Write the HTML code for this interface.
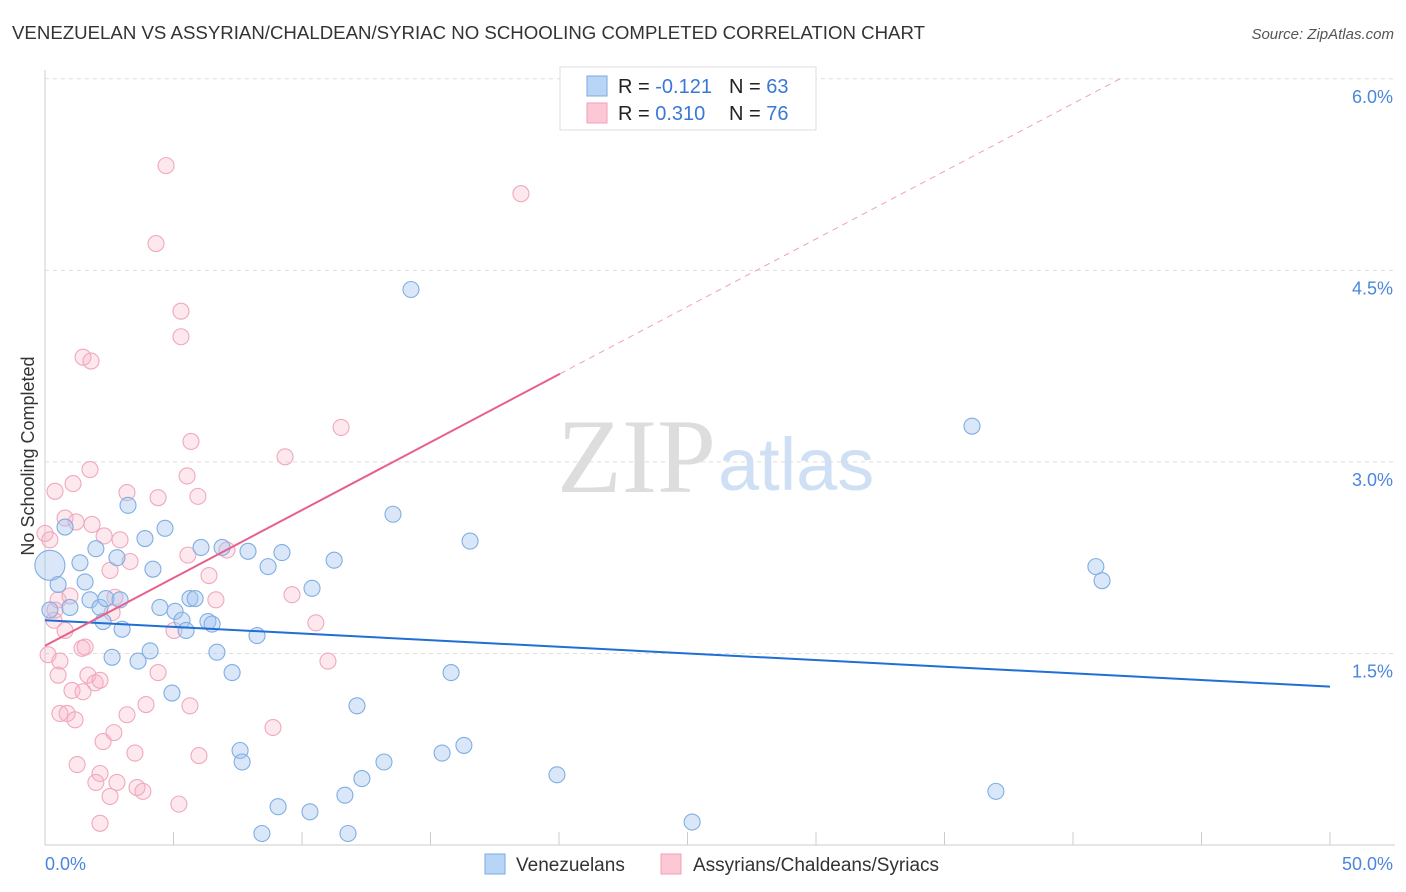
<!DOCTYPE html>
<html><head><meta charset="utf-8"><style>
body{margin:0;background:#fff;font-family:"Liberation Sans",sans-serif;}
svg{display:block}
</style></head><body>
<svg id="chart" width="1406" height="892" font-family="Liberation Sans, sans-serif">
<text x="12" y="39" font-size="18" fill="#333" textLength="913" lengthAdjust="spacingAndGlyphs">VENEZUELAN VS ASSYRIAN/CHALDEAN/SYRIAC NO SCHOOLING COMPLETED CORRELATION CHART</text>
<text x="1394" y="39" font-size="15" fill="#555" font-style="italic" text-anchor="end">Source: ZipAtlas.com</text>
<text x="716" y="492" font-size="106" fill="#ddd" text-anchor="end" font-family="Liberation Serif, serif">ZIP</text>
<text x="718" y="490" font-size="74" fill="#cfe0f5">atlas</text>
<text transform="translate(34,456) rotate(-90)" font-size="18" fill="#333" text-anchor="middle">No Schooling Completed</text>
<g id="grid"></g><g id="pts"></g><g id="lines"></g>
<g>
<rect x="560" y="67" width="256" height="63" fill="#fff" stroke="#ddd"/>
<rect x="587" y="76" width="20" height="20" fill="#b8d4f6" stroke="#7aaae0"/>
<rect x="587" y="103" width="20" height="20" fill="#fcc8d6" stroke="#f0a0b8"/>
<text x="618" y="93" font-size="20" fill="#222">R = <tspan fill="#3a78d8">-0.121</tspan></text>
<text x="729" y="93" font-size="20" fill="#222">N = <tspan fill="#3a78d8">63</tspan></text>
<text x="618" y="120" font-size="20" fill="#222">R = <tspan fill="#3a78d8"> 0.310</tspan></text>
<text x="729" y="120" font-size="20" fill="#222">N = <tspan fill="#3a78d8">76</tspan></text>
</g>
<g>
<rect x="485" y="854" width="20" height="20" fill="#b8d4f6" stroke="#7aaae0"/>
<text x="516" y="871" font-size="19" fill="#333">Venezuelans</text>
<rect x="661" y="854" width="20" height="20" fill="#fcc8d6" stroke="#f0a0b8"/>
<text x="693" y="871" font-size="19" fill="#333">Assyrians/Chaldeans/Syriacs</text>
</g>
</svg>
<script>
const xTicks=[0,5,10,15,20,25,30,35,40,45,50];
const yTicks=[1.5,3.0,4.5,6.0];
const yTickLabels=["1.5%","3.0%","4.5%","6.0%"];
const xEndLabels=["0.0%","50.0%"];
const blueX=[.19,.51,.78,1.36,1.56,1.75,1.98,2.14,2.26,2.37,2.61,2.80,3.00,3.23,3.62,3.89,4.09,4.20,4.47,4.67,4.94,5.06,5.33,5.49,5.64,5.84,6.07,6.34,6.50,6.69,6.89,7.28,7.59,7.67,7.90,8.25,8.44,8.68,9.07,9.22,10.31,10.39,11.25,11.67,11.79,12.14,12.33,13.19,13.54,14.24,15.45,15.80,16.30,16.54,19.92,25.18,36.07,37.00,40.89,41.13,.19,.97,2.92];
const blueY=[2.19,2.04,2.49,2.21,2.06,1.92,2.32,1.86,1.75,1.93,1.47,2.25,1.69,2.66,1.44,2.40,1.52,2.16,1.86,2.48,1.19,1.83,1.76,1.68,1.93,1.93,2.33,1.75,1.73,1.51,2.33,1.35,.74,.65,2.30,1.64,.09,2.18,.30,2.29,.26,2.01,2.23,.39,.09,1.09,.52,.65,2.59,4.35,.72,1.35,.78,2.38,.55,.18,3.28,.42,2.18,2.07,1.84,1.86,1.92];
const pinkX=[4.71,18.52,4.32,5.29,5.29,1.48,1.79,11.52,5.68,9.34,1.75,5.53,1.09,.39,3.19,4.40,5.95,.78,1.83,1.21,0,2.30,2.92,7.08,5.56,3.31,6.38,.51,.97,2.72,9.61,6.65,.35,2.61,10.54,.78,5.02,1.44,.12,.58,11.01,4.40,.51,1.67,1.95,1.05,1.48,2.14,3.93,5.64,.58,.86,1.17,3.19,8.87,2.68,2.26,3.50,5.99,1.25,2.14,2.80,1.98,3.58,3.81,2.53,5.21,2.14,.19,2.53,.39,1.56];
const pinkY=[5.32,5.10,4.71,4.18,3.98,3.82,3.79,3.27,3.16,3.04,2.94,2.89,2.83,2.77,2.76,2.72,2.73,2.56,2.51,2.53,2.44,2.42,2.39,2.31,2.27,2.22,2.11,1.92,1.95,1.94,1.96,1.92,1.76,1.82,1.74,1.68,1.68,1.54,1.49,1.44,1.44,1.35,1.33,1.33,1.27,1.21,1.20,1.29,1.10,1.09,1.03,1.03,.98,1.02,.92,.88,.81,.72,.70,.63,.56,.49,.49,.45,.42,.38,.32,.17,2.39,2.15,1.84,1.55];
const blueTrendX=[0,50], blueTrendY=[1.76,1.24];
const pinkTrendX=[0,20.04], pinkTrendY=[1.56,3.69];
const pinkDashX=[20.04,41.83], pinkDashY=[3.69,6.0];
const NS="http://www.w3.org/2000/svg";
const sx=v=>45+v*25.7, sy=v=>845-v*127.7;
function mk(t,a,p){const e=document.createElementNS(NS,t);for(const k in a)e.setAttribute(k,a[k]);p.appendChild(e);return e;}
const grid=document.getElementById('grid');
const ax=mk('line',{x1:45,y1:70,x2:45,y2:845,stroke:'#ccc'},grid);


const bx=mk('line',{x1:45,y1:845,x2:1395,y2:845,stroke:'#ccc'},grid);


yTicks.forEach((t,i)=>{
 const g=mk('line',{x1:45,y1:sy(t),x2:1395,y2:sy(t),stroke:'#ddd','stroke-dasharray':'4,4'},grid);
 
 
 const l=mk('text',{x:1393,y:sy(t)+24,'font-size':18,fill:'#4a86dc','text-anchor':'end'},grid);
 l.textContent=yTickLabels[i];
 
 
});
xTicks.forEach(t=>{
 const k=mk('line',{x1:sx(t),y1:832,x2:sx(t),y2:845,stroke:'#ccc'},grid);
 
 
});
const l0=mk('text',{x:45,y:870,'font-size':18,fill:'#4a86dc'},grid);l0.textContent=xEndLabels[0];


const l1=mk('text',{x:1393,y:870,'font-size':18,fill:'#4a86dc','text-anchor':'end'},grid);l1.textContent=xEndLabels[1];


const pts=document.getElementById('pts');
pinkX.forEach((x,i)=>{
 const c=mk('circle',{cx:sx(x),cy:sy(pinkY[i]),r:8,fill:'rgba(248,180,200,0.3)',stroke:'#f0a8be','stroke-width':1.1},pts);
 
 
});
blueX.forEach((x,i)=>{
 const c=mk('circle',{cx:sx(x),cy:sy(blueY[i]),r:i==0?15:8,fill:'rgba(160,196,240,0.4)',stroke:'#80aee2','stroke-width':1.1},pts);
 
 
});
const lines=document.getElementById('lines');
const b=mk('line',{x1:sx(blueTrendX[0]),y1:sy(blueTrendY[0]),x2:sx(blueTrendX[1]),y2:sy(blueTrendY[1]),stroke:'#1f6fd6','stroke-width':2},lines);


const p=mk('line',{x1:sx(pinkTrendX[0]),y1:sy(pinkTrendY[0]),x2:sx(pinkTrendX[1]),y2:sy(pinkTrendY[1]),stroke:'#e8608a','stroke-width':2},lines);


const d=mk('line',{x1:sx(pinkDashX[0]),y1:sy(pinkDashY[0]),x2:sx(pinkDashX[1]),y2:sy(pinkDashY[1]),stroke:'#f0a0b8','stroke-width':1,'stroke-dasharray':'6,5'},lines);


</script>
</body></html>
